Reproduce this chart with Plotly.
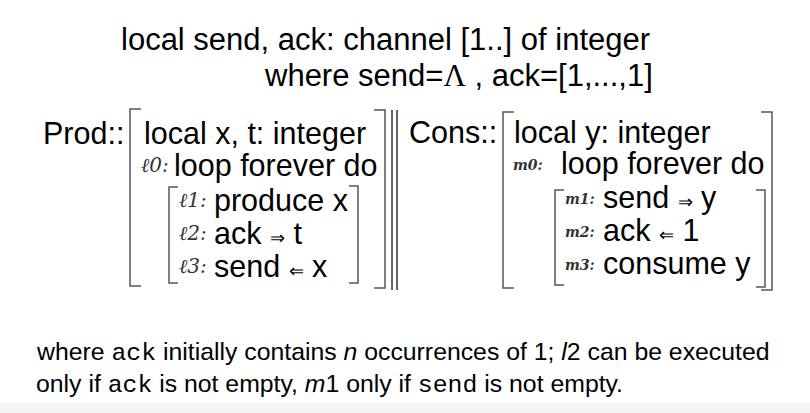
import plotly.graph_objects as go

# text content of the slide
header_lines = ["local send, ack: channel [1..] of integer",
                "where send=Λ , ack=[1,...,1]"]
prod_name = "Prod::"
cons_name = "Cons::"
prod_labels = ["", "ℓ0:", "ℓ1:", "ℓ2:", "ℓ3:"]
prod_stmts = ["local x, t: integer", "loop forever do", "produce x", "ack ⇒ t", "send ⇐ x"]
cons_labels = ["", "m0:", "m1:", "m2:", "m3:"]
cons_stmts = ["local y: integer", "loop forever do", "send ⇒ y", "ack ⇐ 1", "consume y"]
note_lines = [
    "where <span style='font-family:Liberation Mono'>ack</span> initially contains <i>n</i> "
    "occurrences of 1; <i>l</i>2 can be executed",
    "only if <span style='font-family:Liberation Mono'>ack</span> is not empty, <i>m</i>1 only if "
    "<span style='font-family:Liberation Mono'>send</span> is not empty.",
]

# layout (pixel space)
W, H = 810, 413
MAIN_FONT = "Liberation Sans, Arial, sans-serif"
prod_rows_y = [133, 165, 200, 233, 266]
cons_rows_y = [132, 163, 197, 230, 263]
prod_label_x = [None, 139, 177, 177, 177]
prod_stmt_x = [142, 172, 212, 212, 212]
cons_label_x = [None, 511, 563, 563, 563]
cons_stmt_x = [512, 559, 601, 601, 601]


def fmt_stmt(s):
    for a in ("⇒", "⇐"):
        s = s.replace(a, "<span style='font-size:18px'>" + a + "</span>")
    return s


fig = go.Figure()
annotations = []


def add_text(x, y, text, size=30.5, family=MAIN_FONT, color="#000", anchor="middle"):
    annotations.append(dict(x=x, y=y, xref="x", yref="y", text=text, showarrow=False,
                            xanchor="left", yanchor=anchor, borderpad=0,
                            font=dict(size=size, family=family, color=color)))


# header: first line sits above y=57, second below it
add_text(120, 58, header_lines[0], size=31, anchor="bottom")
add_text(263, 57, header_lines[1].replace(
    "Λ", "<span style='font-family:Liberation Serif'>Λ</span>"), size=31, anchor="top")

add_text(42, 133, prod_name)
add_text(408, 132, cons_name)

for i in range(len(prod_stmts)):
    add_text(prod_stmt_x[i] + 1, prod_rows_y[i], fmt_stmt(prod_stmts[i]))
    if prod_labels[i]:
        add_text(prod_label_x[i] + 1, prod_rows_y[i], "<i>" + prod_labels[i] + "</i>",
                 size=20, family="DejaVu Serif", color="#333")
for i in range(len(cons_stmts)):
    add_text(cons_stmt_x[i] + 1, cons_rows_y[i], fmt_stmt(cons_stmts[i]))
    if cons_labels[i]:
        add_text(cons_label_x[i] + 1, cons_rows_y[i] + 2, "<b><i>" + cons_labels[i] + "</i></b>",
                 size=14, family="DejaVu Serif", color="#333")

add_text(35, 352, note_lines[0], size=24.8, family="Liberation Sans")
add_text(35, 384, note_lines[1], size=24.8, family="Liberation Sans")


def bracket(x, top, bottom, tick, side):
    d = tick if side == "left" else -tick
    return dict(type="path", xref="x", yref="y",
                path=f"M {x + d},{top} L {x},{top} L {x},{bottom} L {x + d},{bottom}",
                line=dict(color="#555", width=1.5))


shapes = [
    bracket(130, 109, 286, 11, "left"),
    bracket(385, 110, 288, 11, "right"),
    bracket(169, 187, 283, 9, "left"),
    bracket(358, 186, 283, 9, "right"),
    bracket(503, 112, 288, 11, "left"),
    bracket(772, 112, 290, 11, "right"),
    bracket(555, 190, 285, 9, "left"),
    bracket(765, 190, 287, 9, "right"),
    dict(type="line", xref="x", yref="y", x0=392, x1=392, y0=110, y1=290,
         line=dict(color="#333", width=1.5)),
    dict(type="line", xref="x", yref="y", x0=397, x1=397, y0=110, y1=290,
         line=dict(color="#333", width=1.5)),
    dict(type="rect", xref="x", yref="y", x0=0, x1=W, y0=403, y1=H,
         fillcolor="#f5f5f5", line=dict(width=0), layer="below"),
]

fig.update_layout(
    width=W, height=H,
    margin=dict(l=0, r=0, t=0, b=0),
    paper_bgcolor="white", plot_bgcolor="white",
    xaxis=dict(range=[0, W], visible=False, fixedrange=True),
    yaxis=dict(range=[H, 0], visible=False, fixedrange=True),
    annotations=annotations,
    shapes=shapes,
    showlegend=False,
)

fig.write_html("out.html", config={"displayModeBar": False},
               post_script="document.body.style.margin='0';document.body.style.overflow='hidden';")
